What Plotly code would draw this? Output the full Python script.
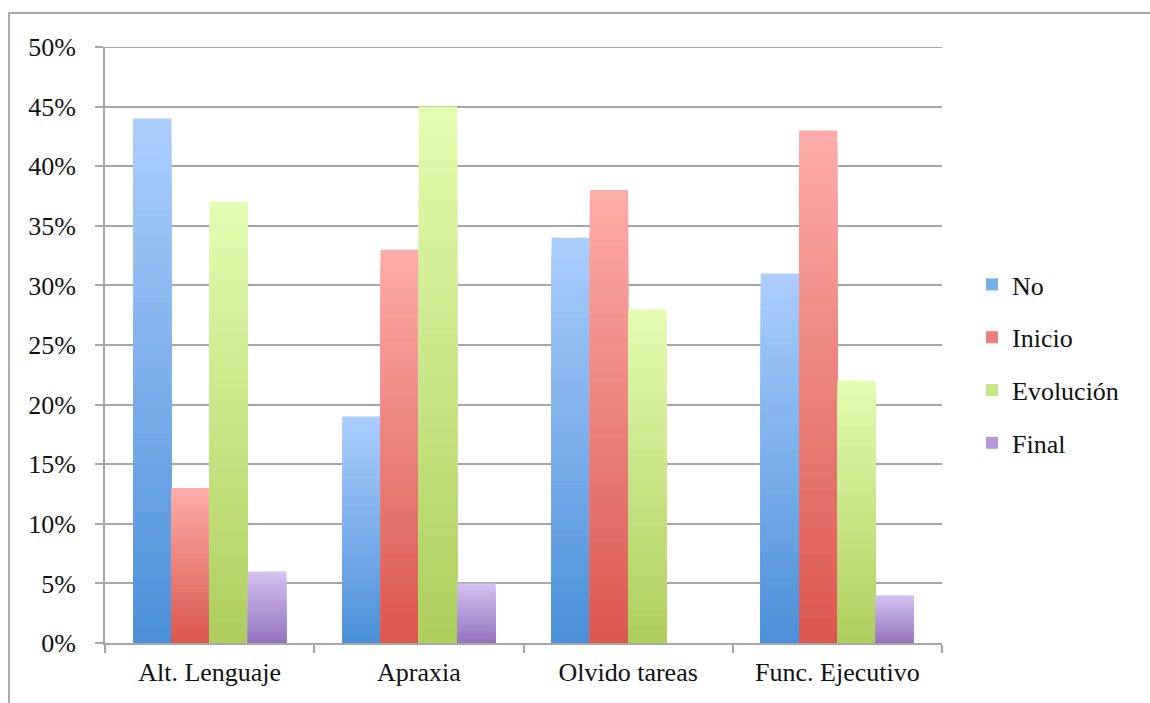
import plotly.graph_objects as go

# Survey results by symptom area and stage
categories = ["Alt. Lenguaje", "Apraxia", "Olvido tareas", "Func. Ejecutivo"]
series_names = ["No", "Inicio", "Evolución", "Final"]
no_vals = [0.44, 0.19, 0.34, 0.31]
inicio_vals = [0.13, 0.33, 0.38, 0.43]
evolucion_vals = [0.37, 0.45, 0.28, 0.22]
final_vals = [0.06, 0.05, 0.00, 0.04]
y_ticks = [0, 0.05, 0.10, 0.15, 0.20, 0.25, 0.30, 0.35, 0.40, 0.45, 0.50]

series_values = [no_vals, inicio_vals, evolucion_vals, final_vals]
# (top colour, bottom colour) of each series' vertical gradient
gradients = [
    ((170, 205, 253), (76, 145, 217)),
    ((253, 171, 169), (219, 88, 80)),
    ((226, 252, 176), (174, 207, 94)),
    ((212, 193, 240), (149, 116, 191)),
]

N_LAYERS = 40
FONT = "'Liberation Serif', 'DejaVu Serif', serif"
GRID = "#a6a6a6"
TEXT = "#111111"
FONT_SIZE = 26


def mix(c1, c2, t):
    return "rgb({},{},{})".format(*[round(a + (b - a) * t) for a, b in zip(c1, c2)])


fig = go.Figure()

# Each bar is built from overlapping layers that shrink toward the base,
# each a shade darker, which gives a top-to-bottom gradient.
for s, (name, vals) in enumerate(zip(series_names, series_values)):
    top, bottom = gradients[s]
    for k in range(N_LAYERS):
        frac = (N_LAYERS - k) / N_LAYERS
        fig.add_trace(go.Bar(
            x=categories,
            y=[v * frac for v in vals],
            name=name,
            legendgroup=name,
            showlegend=(k == N_LAYERS // 2),
            offsetgroup=str(s),
            marker=dict(color=mix(top, bottom, k / (N_LAYERS - 1)), line=dict(width=0)),
            hoverinfo="skip",
        ))

L, R, T, B = 105, 208, 47, 60
W, H = 1150, 703
pw, ph = W - L - R, H - T - B


def px_x(x):
    return (x - L) / pw


def px_y(y):
    return (H - B - y) / ph


fig.update_layout(
    width=W,
    height=H,
    margin=dict(l=L, r=R, t=T, b=B),
    paper_bgcolor="white",
    plot_bgcolor="white",
    barmode="group",
    bargap=0.268,
    bargroupgap=0,
    font=dict(family=FONT, size=FONT_SIZE, color=TEXT),
    legend=dict(
        x=px_x(972), y=px_y(364), xanchor="left", yanchor="middle",
        orientation="v", tracegroupgap=16,
        font=dict(family=FONT, size=FONT_SIZE, color=TEXT),
        bgcolor="rgba(0,0,0,0)",
    ),
    xaxis=dict(
        type="category",
        showline=True, linecolor=GRID, linewidth=2,
        ticks="outside", tickson="boundaries", ticklen=8, tickwidth=2, tickcolor=GRID,
        showgrid=False,
        tickfont=dict(family=FONT, size=FONT_SIZE, color=TEXT),
        ticklabelstandoff=5,
    ),
    yaxis=dict(
        range=[0, 0.5],
        tickvals=y_ticks,
        tickformat=".0%",
        showline=True, linecolor=GRID, linewidth=2,
        ticks="outside", ticklen=8, tickwidth=2, tickcolor=GRID,
        showgrid=True, gridcolor=GRID, gridwidth=2,
        zeroline=False,
        tickfont=dict(family=FONT, size=FONT_SIZE, color=TEXT),
        ticklabelstandoff=14,
    ),
    shapes=[
        dict(
            type="rect", xref="paper", yref="paper",
            x0=px_x(9), x1=px_x(1170), y0=px_y(720), y1=px_y(13),
            line=dict(color="#ababab", width=2), fillcolor="rgba(0,0,0,0)",
            layer="below",
        ),
        # gridline at the top of the value range
        dict(
            type="line", xref="paper", yref="y",
            x0=0, x1=1, y0=y_ticks[-1], y1=y_ticks[-1],
            line=dict(color=GRID, width=2), layer="below",
        ),
    ],
)

fig.write_html("out.html")
